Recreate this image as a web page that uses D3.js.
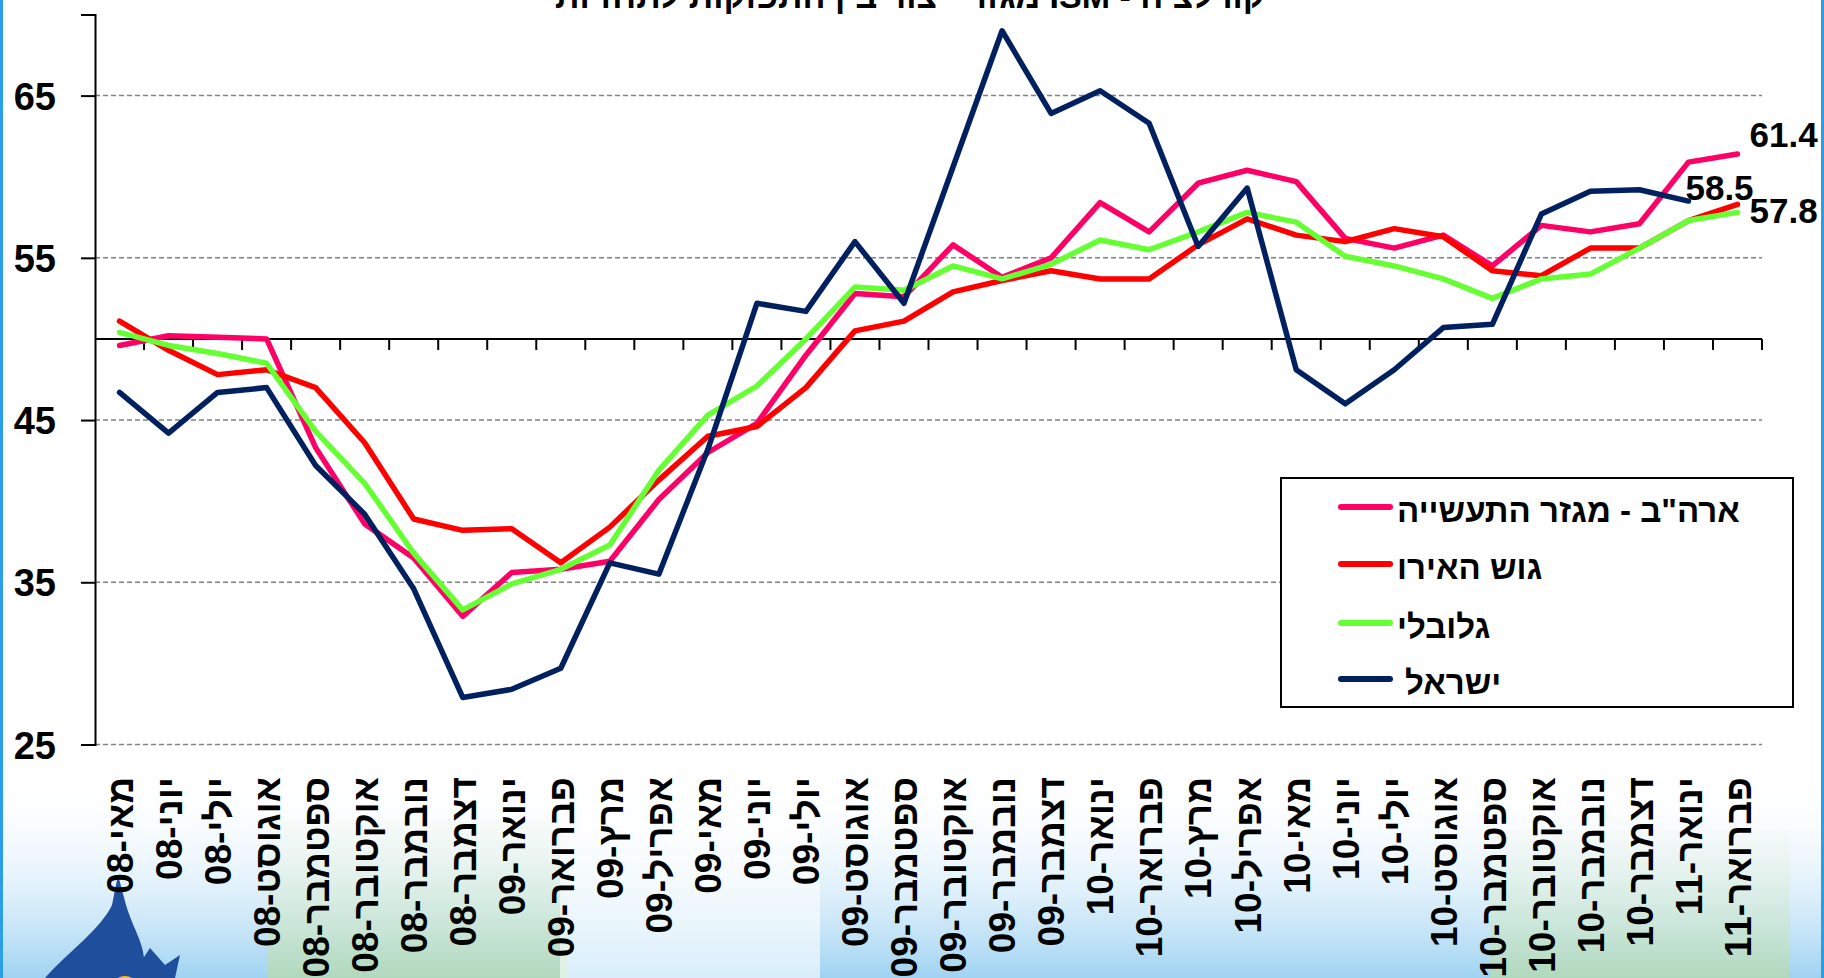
<!DOCTYPE html>
<html><head><meta charset="utf-8">
<script src="https://cdn.jsdelivr.net/npm/d3@7"></script>
<style>
body{margin:0;background:#fff;}
svg{display:block;}
text{font-family:"Liberation Sans",Arial,sans-serif;font-weight:bold;fill:#000;}
</style></head>
<body><svg id="c" width="1824" height="978"></svg>
<script>
const months = ["מאי-08","יוני-08","יולי-08","אוגוסט-08","ספטמבר-08","אוקטובר-08","נובמבר-08","דצמבר-08","ינואר-09","פברואר-09","מרץ-09","אפריל-09","מאי-09","יוני-09","יולי-09","אוגוסט-09","ספטמבר-09","אוקטובר-09","נובמבר-09","דצמבר-09","ינואר-10","פברואר-10","מרץ-10","אפריל-10","מאי-10","יוני-10","יולי-10","אוגוסט-10","ספטמבר-10","אוקטובר-10","נובמבר-10","דצמבר-10","ינואר-11","פברואר-11"];
const usManufacturing = [49.6,50.2,50.1,50.0,43.3,38.6,36.5,32.9,35.6,35.8,36.3,40.1,43.0,44.8,49.0,52.8,52.6,55.8,53.8,55.0,58.4,56.6,59.6,60.4,59.7,56.2,55.6,56.4,54.5,57.0,56.6,57.1,60.9,61.4];
const euroZone = [51.1,49.3,47.8,48.1,47.0,43.6,38.9,38.2,38.3,36.2,38.4,41.3,44.0,44.6,47.0,50.5,51.1,52.9,53.6,54.2,53.7,53.7,55.8,57.4,56.4,56.0,56.8,56.3,54.2,53.9,55.6,55.6,57.3,58.3];
const globalIdx = [50.4,49.6,49.1,48.5,44.3,41.1,36.8,33.3,34.9,35.8,37.3,41.9,45.3,47.1,50.0,53.2,53.0,54.5,53.7,54.6,56.1,55.5,56.6,57.8,57.2,55.1,54.5,53.7,52.5,53.7,54.0,55.6,57.3,57.8];
const israel = [46.7,44.2,46.7,47.0,42.2,39.2,34.6,27.9,28.4,29.7,36.2,35.5,43.2,52.2,51.7,56.0,52.2,60.6,69.0,63.9,65.3,63.3,55.7,59.3,48.1,46.0,48.1,50.7,50.9,57.7,59.1,59.2,58.5,null];
const seriesNames = ['ארה"ב - מגזר התעשייה',"גוש האירו","גלובלי","ישראל"];
const seriesColors = ["#ff0066","#ff0000","#66ff33","#002060"];
const yTicks = [25,35,45,55,65];
const titleText = "קורלציה - ISM מגזר ייצור בין התפוקות לתחזיות";

const svg = d3.select("#c");
const W = 1824, H = 978;
const x = d3.scaleBand().domain(months).range([95, 1762]);
const y = d3.scaleLinear().domain([25, 70]).range([744.5, 14.5]);
const cx = i => x(months[i]) + x.bandwidth() / 2;

// background decoration
const defs = svg.append("defs");
const g1 = defs.append("linearGradient").attr("id","bgBlue").attr("x1",0).attr("y1",0).attr("x2",0).attr("y2",1);
g1.append("stop").attr("offset","0").attr("stop-color","#ffffff").attr("stop-opacity",0);
g1.append("stop").attr("offset","1").attr("stop-color","#9fd3f2");
const g2 = defs.append("linearGradient").attr("id","bgGreen").attr("x1",0).attr("y1",0).attr("x2",0).attr("y2",1);
g2.append("stop").attr("offset","0").attr("stop-color","#eef6e8").attr("stop-opacity",0.3);
g2.append("stop").attr("offset","1").attr("stop-color","#b8dca6");
svg.append("rect").attr("x",0).attr("y",770).attr("width",W).attr("height",208).attr("fill","url(#bgBlue)");
svg.append("rect").attr("x",268).attr("y",820).attr("width",300).attr("height",158).attr("fill","url(#bgGreen)").attr("opacity",0.7);
svg.append("rect").attr("x",1490).attr("y",830).attr("width",300).attr("height",148).attr("fill","url(#bgGreen)").attr("opacity",0.7);
svg.append("rect").attr("x",560).attr("y",770).attr("width",260).attr("height",208).attr("fill","#ffffff").attr("opacity",0.6);
// logo
svg.append("path").attr("d","M45,978 C70,950 100,930 112,905 L118,875 L126,905 C135,935 150,950 142,978 Z").attr("fill","#1f4e9c");
svg.append("path").attr("d","M130,978 L150,948 L165,965 L180,955 L175,978 Z").attr("fill","#1f4e9c");
svg.append("circle").attr("cx",125).attr("cy",990).attr("r",14).attr("fill","#f3c316");
// blue edges
svg.append("rect").attr("x",0).attr("y",0).attr("width",3).attr("height",H).attr("fill","#2a9fe8");
svg.append("rect").attr("x",W-3).attr("y",0).attr("width",3).attr("height",H).attr("fill","#2a9fe8");

// title (cropped at top, as in the reference)
svg.append("text").attr("x",910).attr("y",8).attr("text-anchor","middle").attr("direction","rtl")
  .style("font-size","34px").text(titleText);

// grid
svg.append("g").selectAll("line").data(yTicks).join("line")
  .attr("x1",95).attr("x2",1762).attr("y1",d=>y(d)).attr("y2",d=>y(d))
  .attr("stroke","#808080").attr("stroke-width",1.5).attr("stroke-dasharray","5,3");

// y axis
const yAxis = svg.append("g").attr("transform","translate(95,0)")
  .call(d3.axisLeft(y).tickValues(yTicks).tickSize(14).tickPadding(25).tickFormat(d3.format("d")));
yAxis.select(".domain").attr("stroke","#000").attr("stroke-width",2);
yAxis.selectAll(".tick line").attr("stroke","#000").attr("stroke-width",2);
yAxis.selectAll(".tick text").style("font-size","38px").style("font-family","'Liberation Sans',Arial,sans-serif").style("font-weight","bold").attr("dy","0.36em");

// x axis at 50
const xg = svg.append("g");
xg.append("line").attr("x1",95).attr("x2",1762).attr("y1",y(50)).attr("y2",y(50)).attr("stroke","#000").attr("stroke-width",2);
const bounds = months.map(m => x(m)).slice(1).concat([x.range()[1]]);
xg.selectAll("line.tk").data(bounds).join("line").attr("class","tk")
  .attr("x1",d=>d).attr("x2",d=>d).attr("y1",y(50)).attr("y2",y(50)+11).attr("stroke","#000").attr("stroke-width",2);

// x labels
svg.append("g").selectAll("text").data(months).join("text")
  .attr("transform",(d,i)=>`translate(${cx(i)},777) rotate(-90)`)
  .attr("direction","rtl").attr("text-anchor","start").attr("dy","0.36em")
  .style("font-size","37px").text(d=>d);

// lines
const allSeries = [usManufacturing, euroZone, globalIdx, israel];
const line = d3.line().defined(d=>d!=null).x((d,i)=>cx(i)).y(d=>y(d));
svg.append("g").selectAll("path").data(allSeries).join("path")
  .attr("d",d=>line(d)).attr("fill","none")
  .attr("stroke",(d,i)=>seriesColors[i]).attr("stroke-width",5.5)
  .attr("stroke-linejoin","round").attr("stroke-linecap","round");

// end labels
const last = months.length - 1;
svg.append("text").attr("x",cx(last)+12).attr("y",y(usManufacturing[last])-7).style("font-size","35px").text(usManufacturing[last].toFixed(1));
svg.append("text").attr("x",cx(last-1)-3).attr("y",y(israel[last-1])-1).style("font-size","35px").text(israel[last-1].toFixed(1));
svg.append("text").attr("x",cx(last)+12).attr("y",y(globalIdx[last])+11).style("font-size","35px").text(globalIdx[last].toFixed(1));

// legend
const lg = svg.append("g");
lg.append("rect").attr("x",1281).attr("y",478).attr("width",512).attr("height",229).attr("fill","#fff").attr("stroke","#000").attr("stroke-width",2);
const rowY = [507,564,623,679];
seriesNames.forEach((n,i)=>{
  lg.append("line").attr("x1",1341).attr("x2",1390).attr("y1",rowY[i]).attr("y2",rowY[i])
    .attr("stroke",seriesColors[i]).attr("stroke-width",6).attr("stroke-linecap","round");
  lg.append("text").attr("x",i===3 ? 1405 : 1397).attr("y",rowY[i]+15).attr("direction","rtl").attr("text-anchor","end")
    .style("font-size","33px").text(n);
});
</script></body></html>
